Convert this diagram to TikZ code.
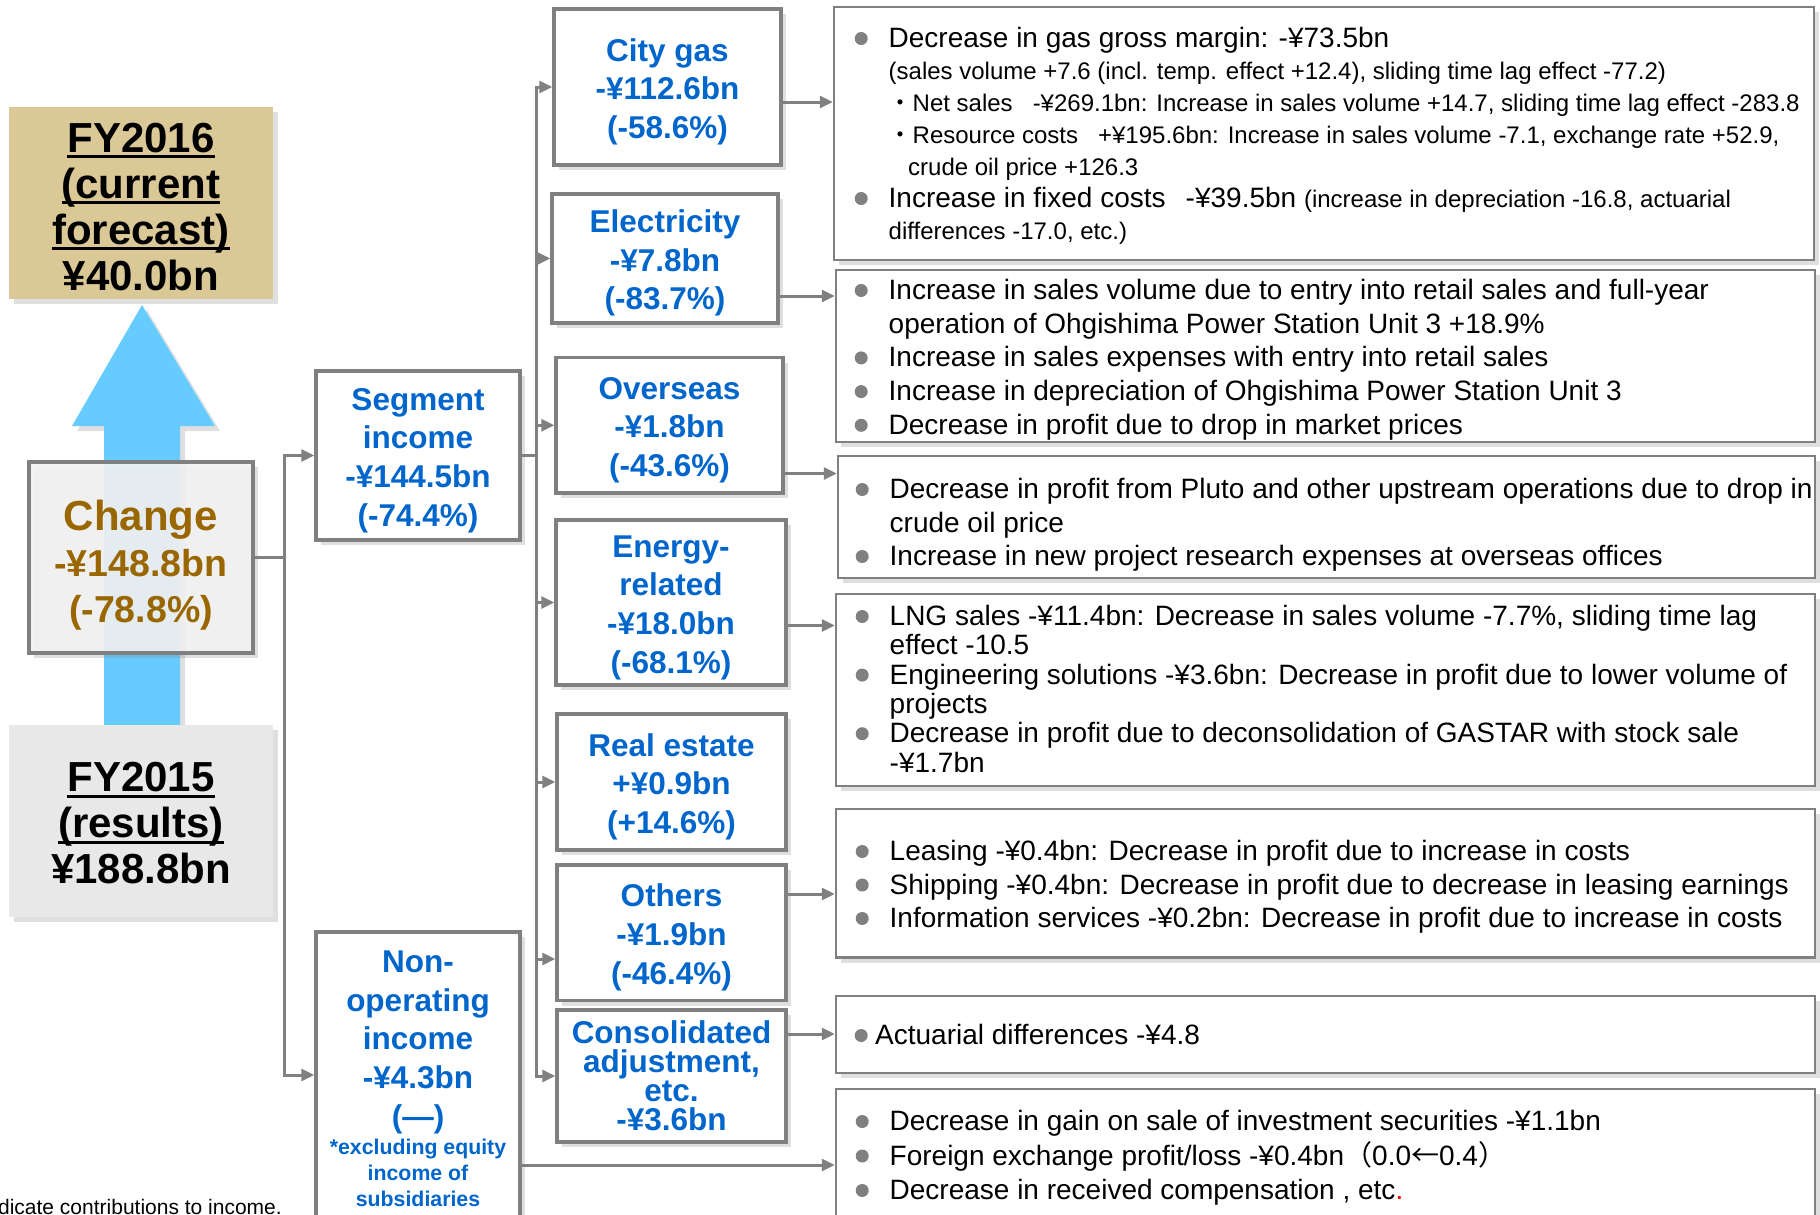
\documentclass[tikz,border=0pt]{standalone}
\usepackage{fontspec}
\setmainfont{Liberation Sans}
\newfontfamily\cjk{Noto Sans CJK JP}
\usetikzlibrary{arrows.meta,shadows}

\definecolor{linegray}{RGB}{128,128,128}
\definecolor{segblue}{RGB}{0,102,204}
\definecolor{chgbrown}{RGB}{153,102,0}
\definecolor{fytan}{RGB}{218,200,150}
\definecolor{fygray}{RGB}{232,232,232}
\definecolor{arrowblue}{RGB}{102,204,255}

\newcommand\segfont{\fontsize{31.5}{38.7}\selectfont\bfseries}
\newcommand\bigfont{\fontsize{42}{46}\selectfont\bfseries}
\newcommand\chgnum{\fontsize{37.5}{46}\selectfont}
\newcommand\sm{\fontsize{24}{32}\selectfont}
\newcommand\jsp{{\fontsize{20}{32}\selectfont\cjk 　}}
\newcommand\up[1]{\rule{0pt}{#1pt}}
\newcommand\uln[1]{\setbox0\hbox{#1}\rlap{\rule[-6pt]{\wd0}{2.8pt}}\box0}
\newcommand\bul[1][34pt]{\makebox[#1][l]{\tikz[baseline={(0pt,-9pt)}]\fill[linegray] (6.5pt,0pt) circle (6.5pt);}}

\begin{document}
\begin{tikzpicture}[x=1pt, y=-1pt,
  boxshadow/.style={drop shadow={shadow xshift=5pt, shadow yshift=-5pt, opacity=.25}},
  bigbox/.style={boxshadow, inner sep=0pt, align=center, font=\bigfont, minimum width=264pt, minimum height=192pt},
  segbox/.style={boxshadow, draw=linegray, line width=3.5pt, fill=white, text=segblue, inner sep=0pt, align=center, font=\segfont},
  descbox/.style={boxshadow, draw=linegray, line width=2.5pt, fill=white, inner sep=0pt, minimum width=979pt},
  desctext/.style={anchor=base west, inner sep=0pt},
  link/.style={draw=linegray, line width=3pt},
  >={Triangle[length=13pt, width=12pt]}]

\useasboundingbox (0,0) rectangle (1820,1215);
\clip (0,0) rectangle (1820,1215);

\node[bigbox, fill=fytan] (fy16) at (141,203) {\up{36.5}\uln{FY2016}\\\uln{(current}\\\uln{forecast)}\\¥40.0bn};
\fill[arrowblue, boxshadow] (104,725) -- (104,426) -- (72,426) -- (142,305) -- (215,426) -- (180,426) -- (180,725) -- cycle;
\node[bigbox, draw=linegray, line width=4.5pt, fill=black!5, fill opacity=.9, text opacity=1, text=chgbrown, minimum width=224pt, minimum height=191pt] (chg) at (141,557.5) {\up{45}Change\\{\chgnum -¥148.8bn}\\{\chgnum (-78.8\%)}};
\node[bigbox, fill=fygray] (fy15) at (141,821) {\up{34}\uln{FY2015}\\\uln{(results)}\\¥188.8bn};

\node[segbox, minimum width=204pt, minimum height=169pt] (seg) at (418,455.5) {\up{32}Segment\\income\\-¥144.5bn\\(-74.4\%)};
\node[segbox, minimum width=204pt, minimum height=293.5pt] (nonop) at (418,1078.75) {\parbox{200pt}{\centering
  Non-\par operating\par income\par -¥4.3bn\par (—)\par
  \fontsize{21.3}{27.5}\selectfont *excluding equity\par
  \fontsize{21.3}{26}\selectfont income of\par subsidiaries}};

\node[segbox, minimum width=227pt, minimum height=156pt] (city) at (667.5,87) {\up{32}City gas\\-¥112.6bn\\(-58.6\%)};
\node[segbox, minimum width=226pt, minimum height=129pt] (elec) at (665,258.5) {\up{32}Electricity\\-¥7.8bn\\(-83.7\%)};
\node[segbox, minimum width=227pt, minimum height=135.5pt] (over) at (669.5,425.25) {\up{32}Overseas\\-¥1.8bn\\(-43.6\%)};
\node[segbox, minimum width=230pt, minimum height=165pt] (ener) at (671,602.5) {\up{32}Energy-\\related\\-¥18.0bn\\(-68.1\%)};
\node[segbox, minimum width=229pt, minimum height=136pt] (real) at (671.5,782) {\up{32}Real estate\\+¥0.9bn\\(+14.6\%)};
\node[segbox, minimum width=229pt, minimum height=135.5pt] (othr) at (671.5,932.75) {\up{32}Others\\-¥1.9bn\\(-46.4\%)};
\node[segbox, minimum width=229pt, minimum height=132pt, font=\fontsize{31.5}{29}\selectfont\bfseries] (cons) at (671.5,1076) {Consolidated\\adjustment,\\etc.\\-¥3.6bn};

\node[descbox, minimum width=980pt, minimum height=253pt] (d1) at (1324,133.5) {};
\node[descbox, minimum height=172pt] (d2) at (1325.5,356) {};
\node[descbox, minimum width=977pt, minimum height=122pt] (d3) at (1326.5,517) {};
\node[descbox, minimum height=192pt] (d4) at (1325.5,690) {};
\node[descbox, minimum height=148.5pt] (d5) at (1325.5,883.25) {};
\node[descbox, minimum height=77pt] (d6) at (1325.5,1034.5) {};
\node[descbox, minimum height=151pt] (d7) at (1325.5,1164.5) {};

\coordinate (lj) at (284,557.5);
\coordinate (rj) at (536,455.5);
\coordinate (nonop in) at ([yshift=3.75pt]nonop.west);
\coordinate (othr in) at ([yshift=-26.25pt]othr.west);
\draw[link] (chg.east) -- (lj);
\draw[link,->] (lj) |- (seg.west);
\draw[link,->] (lj) |- (nonop in);
\draw[link] (seg.east) -- (rj);
\draw[link,->] (rj) |- (city.west);
\draw[link,->] (rj) |- (elec.west);
\draw[link,->] (rj) |- (over.west);
\draw[link,->] (rj) |- (ener.west);
\draw[link,->] (rj) |- (real.west);
\draw[link,->] (rj) |- (othr in);
\draw[link,->] (rj) |- (cons.west);

\coordinate (city out) at ([yshift=-15pt]city.east);
\coordinate (elec out) at ([yshift=-37.5pt]elec.east);
\coordinate (over out) at ([yshift=-48.25pt]over.east);
\coordinate (ener out) at ([yshift=-23pt]ener.east);
\coordinate (othr out) at ([yshift=38.75pt]othr.east);
\coordinate (cons out) at ([yshift=42pt]cons.east);
\coordinate (nonop out) at ([yshift=-86.25pt]nonop.east);
\draw[link,->] (city out) -- (city out -| d1.west);
\draw[link,->] (elec out) -- (elec out -| d2.west);
\draw[link,->] (over out) -- (over out -| d3.west);
\draw[link,->] (ener out) -- (ener out -| d4.west);
\draw[link,->] (othr out) -- (othr out -| d5.west);
\draw[link,->] (cons out) -- (cons out -| d6.west);
\draw[link,->] (nonop out) -- (nonop out -| d7.west);

\node[desctext] (d1t) at (854.5,47.5) {\parbox[t]{960pt}{\raggedright\fontsize{28}{32}\selectfont
  \bul Decrease in gas gross margin: -¥73.5bn\\
  \hspace*{34pt}{\sm (sales volume +7.6 (incl. temp. effect +12.4), sliding time lag effect -77.2)}\\
  \hspace*{34pt}{\sm{\cjk ・}Net sales\jsp -¥269.1bn: Increase in sales volume +14.7, sliding time lag effect -283.8}\\
  \hspace*{34pt}{\sm{\cjk ・}Resource costs\jsp +¥195.6bn: Increase in sales volume -7.1, exchange rate +52.9,}\\
  \hspace*{53.5pt}{\sm crude oil price +126.3}\\
  \bul Increase in fixed costs\jsp -¥39.5bn {\sm (increase in depreciation -16.8, actuarial}\\
  \hspace*{34pt}{\sm differences -17.0, etc.)}}};
\node[desctext] (d2t) at (854.5,299.5) {\parbox[t]{960pt}{\raggedright\fontsize{28}{33.7}\selectfont
  \bul Increase in sales volume due to entry into retail sales and full-year\\
  \hspace*{34pt}operation of Ohgishima Power Station Unit 3 +18.9\%\\
  \bul Increase in sales expenses with entry into retail sales\\
  \bul Increase in depreciation of Ohgishima Power Station Unit 3\\
  \bul Decrease in profit due to drop in market prices}};
\node[desctext] (d3t) at (855.5,498.5) {\parbox[t]{960pt}{\raggedright\fontsize{28}{33.5}\selectfont
  \bul Decrease in profit from Pluto and other upstream operations due to drop in\\
  \hspace*{34pt}crude oil price\\
  \bul Increase in new project research expenses at overseas offices}};
\node[desctext] (d4t) at (855.5,625.5) {\parbox[t]{960pt}{\raggedright\fontsize{28}{29.3}\selectfont
  \bul LNG sales -¥11.4bn: Decrease in sales volume -7.7\%, sliding time lag\\
  \hspace*{34pt}effect -10.5\\
  \bul Engineering solutions -¥3.6bn: Decrease in profit due to lower volume of\\
  \hspace*{34pt}projects\\
  \bul Decrease in profit due to deconsolidation of GASTAR with stock sale\\
  \hspace*{34pt}-¥1.7bn}};
\node[desctext] (d5t) at (855.5,860.5) {\parbox[t]{960pt}{\raggedright\fontsize{28}{33.5}\selectfont
  \bul Leasing -¥0.4bn: Decrease in profit due to increase in costs\\
  \bul Shipping -¥0.4bn: Decrease in profit due to decrease in leasing earnings\\
  \bul Information services -¥0.2bn: Decrease in profit due to increase in costs}};
\node[desctext] (d6t) at (854.5,1044.5) {\fontsize{28}{33.5}\selectfont\bul[20.5pt]Actuarial differences -¥4.8};
\node[desctext] (d7t) at (855.5,1130.5) {\parbox[t]{960pt}{\raggedright\fontsize{28}{34.5}\selectfont
  \bul Decrease in gain on sale of investment securities -¥1.1bn\\
  \bul Foreign exchange profit/loss -¥0.4bn{\cjk （}0.0{\cjk ←}0.4{\cjk ）}\\
  \bul Decrease in received compensation , etc\textcolor{red}{.}}};

\node[anchor=east, inner sep=0pt, font=\fontsize{21}{25}\selectfont] (note) at (282,1207) {dicate contributions to income.};
\end{tikzpicture}
\end{document}
